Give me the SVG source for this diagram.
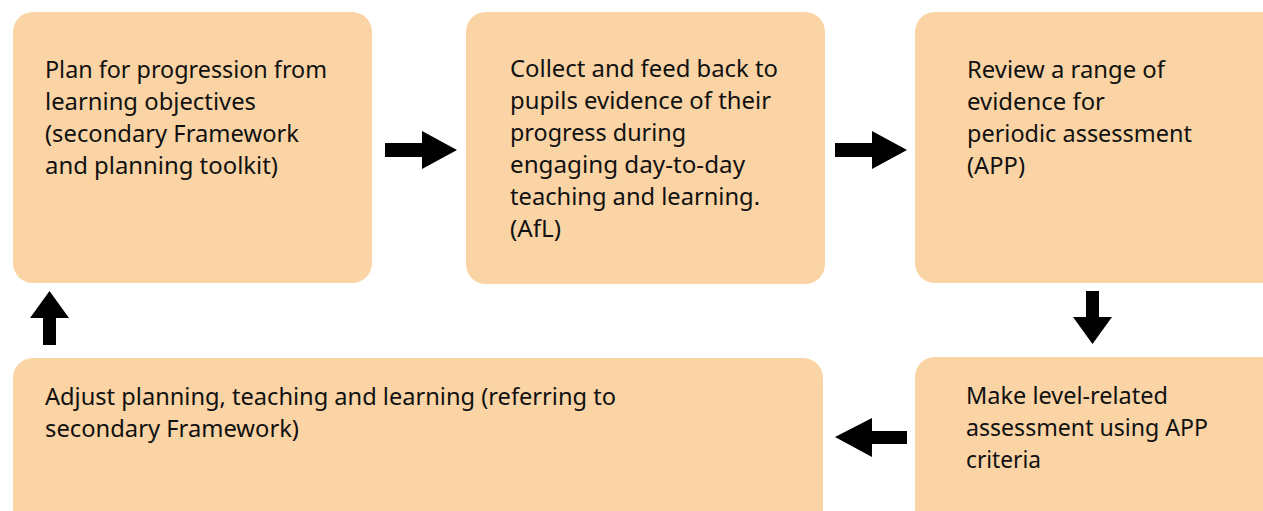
<svg xmlns="http://www.w3.org/2000/svg" width="1263" height="511" viewBox="0 0 1263 511">
<style>
.box{fill:#FAD4A5}
.t{font-family:"Noto Sans","Open Sans",sans-serif;font-size:24px;fill:#111}
.arr{fill:#000}
</style>
<rect width="1263" height="511" fill="#fff"/>
<g id="node-plan">
<rect class="box" x="13" y="12" width="359" height="271" rx="20"/>
<text class="t" lengthAdjust="spacingAndGlyphs"><tspan x="45" y="78" textLength="282" lengthAdjust="spacingAndGlyphs">Plan for progression from</tspan><tspan x="45" y="110" textLength="211" lengthAdjust="spacingAndGlyphs">learning objectives</tspan><tspan x="45" y="142" textLength="254" lengthAdjust="spacingAndGlyphs">(secondary Framework</tspan><tspan x="45" y="174" textLength="233" lengthAdjust="spacingAndGlyphs">and planning toolkit)</tspan></text>
</g>
<g id="node-collect">
<rect class="box" x="466" y="12" width="359" height="272" rx="20"/>
<text class="t"><tspan x="510" y="77" textLength="268" lengthAdjust="spacingAndGlyphs">Collect and feed back to</tspan><tspan x="510" y="109" textLength="261" lengthAdjust="spacingAndGlyphs">pupils evidence of their</tspan><tspan x="510" y="141" textLength="176" lengthAdjust="spacingAndGlyphs">progress during</tspan><tspan x="510" y="173" textLength="235" lengthAdjust="spacingAndGlyphs">engaging day-to-day</tspan><tspan x="510" y="205" textLength="250" lengthAdjust="spacingAndGlyphs">teaching and learning.</tspan><tspan x="510" y="237" textLength="51" lengthAdjust="spacingAndGlyphs">(AfL)</tspan></text>
</g>
<g id="node-review">
<rect class="box" x="915" y="12" width="380" height="271" rx="20"/>
<text class="t"><tspan x="967" y="78" textLength="198" lengthAdjust="spacingAndGlyphs">Review a range of</tspan><tspan x="967" y="110" textLength="138" lengthAdjust="spacingAndGlyphs">evidence for</tspan><tspan x="967" y="142" textLength="225" lengthAdjust="spacingAndGlyphs">periodic assessment</tspan><tspan x="967" y="174" textLength="58" lengthAdjust="spacingAndGlyphs">(APP)</tspan></text>
</g>
<g id="node-level">
<rect class="box" x="915" y="357" width="380" height="200" rx="20"/>
<text class="t"><tspan x="966" y="404" textLength="202" lengthAdjust="spacingAndGlyphs">Make level-related</tspan><tspan x="966" y="436" textLength="242" lengthAdjust="spacingAndGlyphs">assessment using APP</tspan><tspan x="966" y="468" textLength="75" lengthAdjust="spacingAndGlyphs">criteria</tspan></text>
</g>
<g id="node-adjust">
<rect class="box" x="13" y="358" width="810" height="200" rx="20"/>
<text class="t"><tspan x="45" y="405" textLength="571" lengthAdjust="spacingAndGlyphs">Adjust planning, teaching and learning (referring to</tspan><tspan x="45" y="437" textLength="254" lengthAdjust="spacingAndGlyphs">secondary Framework)</tspan></text>
</g>
<g id="connectors">
<path class="arr" d="M385,143 H422 V131 L457,150 L422,169 V157 H385 Z"/>
<path class="arr" d="M835,143 H872 V131 L907,150 L872,169 V157 H835 Z"/>
<path class="arr" d="M1086,291 H1099 V317 H1112 L1092.5,344 L1073,317 H1086 Z"/>
<path class="arr" d="M907,431 H872 V418 L835,437 L872,457 V444 H907 Z"/>
<path class="arr" d="M43,345 V318 H30 L49.5,291 L69,318 H56 V345 Z"/>
</g>
</svg>
